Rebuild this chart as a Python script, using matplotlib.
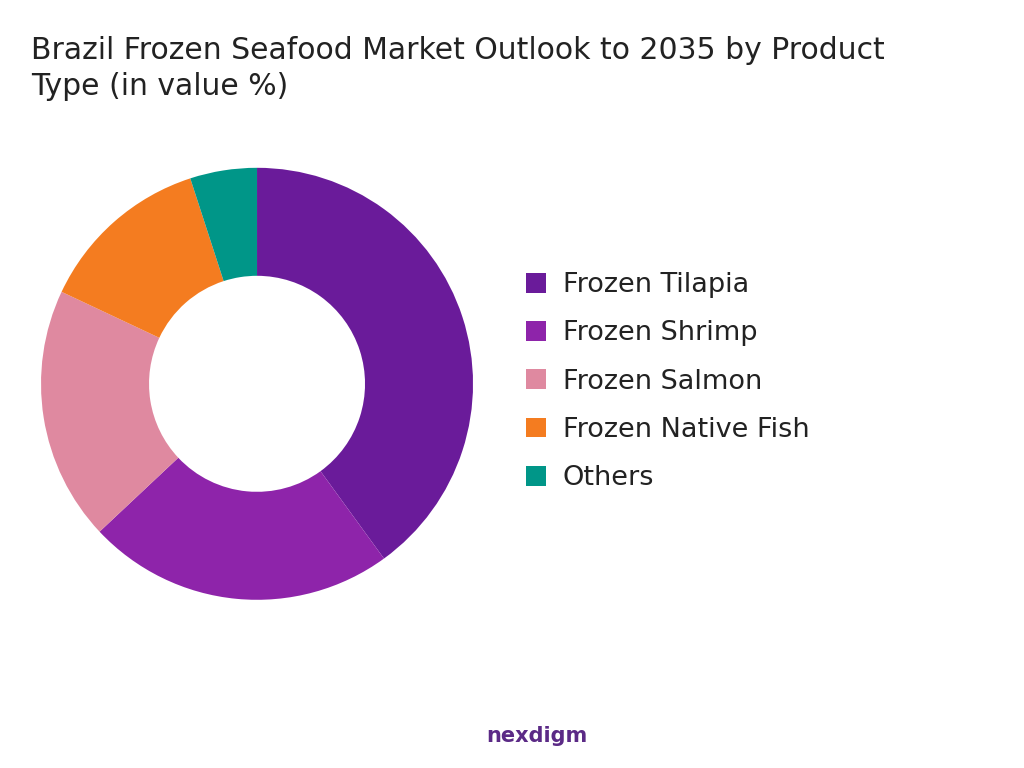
import matplotlib
matplotlib.use("Agg")
import matplotlib.pyplot as plt

categories = ["Frozen Tilapia", "Frozen Shrimp", "Frozen Salmon", "Frozen Native Fish", "Others"]
shares = [40, 23, 19, 13, 5]
colors = ["#6A1B9A", "#8E24AA", "#DF89A0", "#F47C20", "#009688"]

fig = plt.figure(figsize=(10.24, 7.68), dpi=100, facecolor="white")
ax = fig.add_axes([0.04, 0.219, 0.422, 0.5625])
wedges, _ = ax.pie(shares, colors=colors, startangle=90, counterclock=False,
                   wedgeprops=dict(width=0.5, edgecolor="none"))
ax.set_aspect("equal")
ax.set_xlim(-1, 1)
ax.set_ylim(-1, 1)

fig.legend(wedges, categories, loc="center left", bbox_to_anchor=(0.49, 0.503),
           frameon=False, fontsize=19.5, handlelength=0.75, handleheight=0.75,
           handletextpad=0.6, labelspacing=0.82, labelcolor="#222222")

fig.text(0.03, 0.953, "Brazil Frozen Seafood Market Outlook to 2035 by Product\nType (in value %)",
         fontsize=21.5, color="#222222", va="top", linespacing=1.3)
fig.text(0.475, 0.042, "nexdigm", fontsize=15, fontweight="bold", color="#5B2A86", va="center")

fig.savefig("out.png", dpi=100, facecolor="white")
